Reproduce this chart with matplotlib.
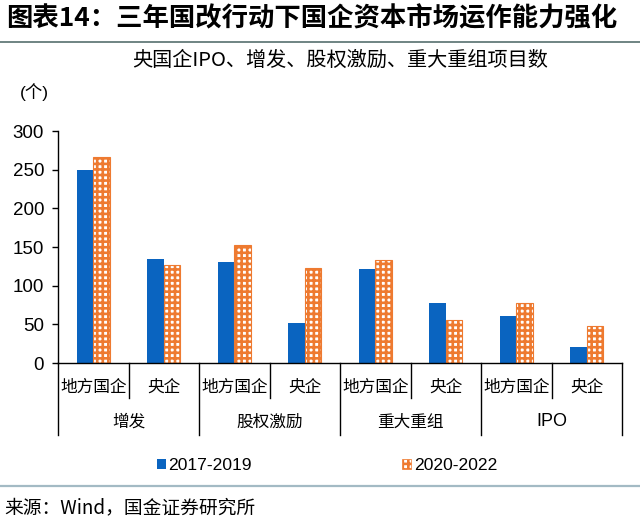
import matplotlib
matplotlib.use("Agg")
import matplotlib.pyplot as plt
from matplotlib.lines import Line2D
from matplotlib.patches import Patch
import numpy as np

# ---- data ----
groups = ["增发", "股权激励", "重大重组", "IPO"]
subcats = ["地方国企", "央企"]
series_names = ["2017-2019", "2020-2022"]
vals_2017_2019 = [250, 135, 130, 52, 121, 78, 61, 21]
vals_2020_2022 = [267, 127, 153, 123, 133, 56, 77, 48]
yticks = [0, 50, 100, 150, 200, 250, 300]

BLUE = "#0A64C0"
ORANGE = "#EE7A30"
CJK = ["Noto Sans CJK SC", "DejaVu Sans"]
LAT = ["Liberation Sans", "Noto Sans CJK SC"]

plt.rcParams["hatch.linewidth"] = 1.9

W, H = 640, 525
fig = plt.figure(figsize=(W / 100, H / 100), dpi=100)

ax_l, ax_r, ax_b, ax_t = 58, 622, 363, 131
ax = fig.add_axes([ax_l / W, 1 - ax_b / H, (ax_r - ax_l) / W, (ax_b - ax_t) / H])

n = len(vals_2017_2019)
x = np.arange(n)
bw = 0.236
ax.bar(x - bw / 2, vals_2017_2019, width=bw, color=BLUE, linewidth=0, label=series_names[0])
ax.bar(x + bw / 2, vals_2020_2022, width=bw, facecolor="white", edgecolor=ORANGE,
       hatch="+++", linewidth=0.8, label=series_names[1])

ax.set_xlim(-0.5, n - 0.5)
ax.set_ylim(0, 300)
ax.set_yticks(yticks)
ax.set_yticklabels([str(v) for v in yticks], family=LAT, fontsize=13.5)
ax.tick_params(axis="y", direction="out", length=4, width=1, pad=6, colors="black")
ax.set_xticks([])
for s in ["top", "right"]:
    ax.spines[s].set_visible(False)
for s in ["left", "bottom"]:
    ax.spines[s].set_linewidth(1.0)
    ax.spines[s].set_color("black")

# category labels (two-level axis)
axh = ax_b - ax_t
def ay(py):
    return (ax_b - py) / axh

trans = ax.get_xaxis_transform()
for i in range(n):
    ax.text(i, ay(387), subcats[i % 2], transform=trans, ha="center", va="center",
            family=CJK, fontsize=12, clip_on=False)
for g, name in enumerate(groups):
    fam = LAT if name.isascii() else CJK
    ax.text(2 * g + 0.5, ay(422), name, transform=trans, ha="center", va="center",
            family=fam, fontsize=13 if name.isascii() else 12, clip_on=False)
# separators
for k in range(n + 1):
    y_end = ay(435) if k % 2 == 0 else ay(398)
    ax.add_line(Line2D([k - 0.5, k - 0.5], [0, y_end], transform=trans, color="black",
                       linewidth=1.0, clip_on=False))

# legend
handles = [Patch(facecolor=BLUE, linewidth=0),
           Patch(facecolor="white", edgecolor=ORANGE, hatch="+++", linewidth=0.5)]
fig.legend(handles, series_names, loc="center", bbox_to_anchor=(327 / W, 1 - 466 / H),
           ncol=2, frameon=False, handlelength=0.5, handleheight=0.5, handletextpad=0.15,
           columnspacing=8.6, prop={"family": LAT, "size": 12.6})

# titles and texts
fig.text(6 / W, 1 - 19 / H, "图表14：三年国改行动下国企资本市场运作能力强化", family=CJK,
         fontsize=19, fontweight="bold", ha="left", va="center")
fig.add_artist(Line2D([0, 1], [1 - 41.5 / H, 1 - 41.5 / H], transform=fig.transFigure,
                      color="#56706E", linewidth=1.2))
fig.text(340 / W, 1 - 60 / H, "央国企IPO、增发、股权激励、重大重组项目数", family=CJK,
         fontsize=14.5, ha="center", va="center")
fig.text(34 / W, 1 - 92 / H, "(个)", family=LAT, fontsize=12.5, ha="center", va="center")
fig.add_artist(Line2D([0, 1], [1 - 486 / H, 1 - 486 / H], transform=fig.transFigure,
                      color="#A3BAC4", linewidth=1.6))
fig.text(4 / W, 1 - 508 / H, "来源：Wind，国金证券研究所", family=CJK, fontsize=13.5,
         ha="left", va="center")

fig.savefig("out.png", dpi=100)
